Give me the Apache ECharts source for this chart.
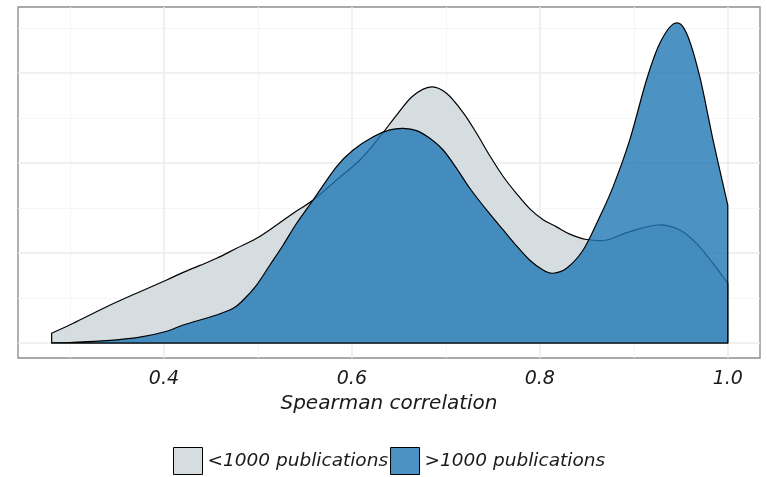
<!DOCTYPE html>
<html>
<head>
<meta charset="utf-8">
<script src="https://cdn.jsdelivr.net/npm/echarts@6/dist/echarts.min.js"></script>
<style>
  html, body { margin: 0; padding: 0; background: #fff; }
  #chart { width: 767px; height: 477px; }
</style>
</head>
<body>
<div id="chart"></div>
<script>
// density curves (x = Spearman correlation, y = density)
// first / last points sit on the baseline (y = 0)
const lowName = '<1000 publications';
const lowX = [0.2805, 0.2805, 0.3035, 0.339, 0.3745, 0.4029, 0.4205, 0.4383, 0.4561, 0.4773, 0.4986, 0.5199, 0.5376, 0.5588, 0.5837, 0.6085, 0.6298, 0.6476, 0.6649, 0.6848, 0.7007, 0.7184, 0.7327, 0.7468, 0.761, 0.7752, 0.7894, 0.8035, 0.8178, 0.8319, 0.8497, 0.871, 0.8957, 0.9258, 0.9489, 0.9667, 0.9843, 1.0, 1.0];
const lowY = [0, 0.108, 0.219, 0.403, 0.570, 0.700, 0.785, 0.862, 0.941, 1.052, 1.163, 1.311, 1.441, 1.589, 1.811, 2.033, 2.292, 2.533, 2.745, 2.845, 2.774, 2.56, 2.33, 2.08, 1.85, 1.66, 1.49, 1.37, 1.29, 1.21, 1.15, 1.144, 1.237, 1.311, 1.256, 1.107, 0.885, 0.663, 0];

const highName = '>1000 publications';
const highX = [0.2805, 0.2805, 0.3035, 0.339, 0.3745, 0.403, 0.4205, 0.4561, 0.4737, 0.4844, 0.4986, 0.5128, 0.5269, 0.5412, 0.5588, 0.5837, 0.6014, 0.6227, 0.6404, 0.6546, 0.6689, 0.683, 0.6971, 0.7114, 0.7255, 0.7433, 0.761, 0.7752, 0.7894, 0.8035, 0.8141, 0.8284, 0.8461, 0.8638, 0.878, 0.8957, 0.9135, 0.9277, 0.9436, 0.9561, 0.9702, 0.9843, 1.0, 1.0];
const highY = [0, 0.002, 0.008, 0.026, 0.065, 0.13, 0.2, 0.311, 0.385, 0.478, 0.644, 0.867, 1.089, 1.33, 1.589, 1.959, 2.144, 2.292, 2.367, 2.385, 2.36, 2.274, 2.144, 1.941, 1.719, 1.478, 1.256, 1.08, 0.92, 0.81, 0.775, 0.830, 1.033, 1.403, 1.737, 2.256, 2.922, 3.33, 3.552, 3.441, 2.959, 2.256, 1.533, 0];

const xTickLabels = [0.4, 0.6, 0.8, 1.0];
const xMajor = [0.4, 0.6, 0.8, 1.0];
const xMinor = [0.3, 0.5, 0.7, 0.9];
const yMajor = [0, 1, 2, 3];
const yMinor = [0.5, 1.5, 2.5, 3.5];

const font = 'DejaVu Sans';
const textColor = '#1a1a1a';
const majorLine = { color: '#ebebeb', width: 1.5, type: 'solid' };
const minorLine = { color: '#f2f2f2', width: 0.8, type: 'solid' };

const chart = echarts.init(document.getElementById('chart'));

const zip = (xs, ys) => xs.map((x, i) => [x, ys[i]]);

// closed outline: straight up from baseline, smooth curve through the
// read points, straight down at the end, back along the baseline
function densityPath(api, xs, ys) {
  const pts = xs.map((x, i) => api.coord([x, ys[i]]));
  const n = pts.length;
  const curve = pts.slice(1, n - 1);
  let d = `M${pts[0][0]},${pts[0][1]} L${curve[0][0]},${curve[0][1]}`;
  for (let i = 0; i < curve.length - 1; i++) {
    const p0 = curve[Math.max(i - 1, 0)];
    const p1 = curve[i];
    const p2 = curve[i + 1];
    const p3 = curve[Math.min(i + 2, curve.length - 1)];
    const c1x = p1[0] + (p2[0] - p0[0]) / 6;
    const c1y = p1[1] + (p2[1] - p0[1]) / 6;
    const c2x = p2[0] - (p3[0] - p1[0]) / 6;
    const c2y = p2[1] - (p3[1] - p1[1]) / 6;
    d += ` C${c1x},${c1y} ${c2x},${c2y} ${p2[0]},${p2[1]}`;
  }
  d += ` L${pts[n - 1][0]},${pts[n - 1][1]} Z`;
  return d;
}

function densitySeries(name, xs, ys, fill, z) {
  return {
    name,
    type: 'custom',
    data: zip(xs, ys),
    encode: { x: 0, y: 1 },
    z,
    silent: true,
    itemStyle: { color: fill },
    renderItem: (params, api) => {
      if (params.dataIndex !== 0) return null;
      return {
        type: 'path',
        shape: { pathData: densityPath(api, xs, ys) },
        style: { fill, stroke: '#000', lineWidth: 1.2, lineJoin: 'round' },
      };
    },
  };
}

// grid lines as marklines so they sit on the real values
const gridLines = [
  ...xMinor.map(v => ({ xAxis: v, lineStyle: minorLine })),
  ...yMinor.map(v => ({ yAxis: v, lineStyle: minorLine })),
  ...xMajor.map(v => ({ xAxis: v, lineStyle: majorLine })),
  ...yMajor.map(v => ({ yAxis: v, lineStyle: majorLine })),
];

const option = {
  animation: false,
  grid: {
    left: 18, right: 7, top: 7, bottom: 119,
    show: true, borderColor: '#8f8f8f', borderWidth: 1.4,
  },
  xAxis: {
    type: 'value',
    min: 0.2447,
    max: 1.0343,
    axisLine: { show: false },
    axisTick: { show: false },
    splitLine: { show: false },
    axisLabel: {
      customValues: xTickLabels,
      formatter: v => v.toFixed(1),
      margin: 12,
      fontFamily: font, fontStyle: 'italic', fontSize: 19, color: textColor,
    },
    name: 'Spearman correlation',
    nameLocation: 'middle',
    nameGap: 28,
    nameTextStyle: { fontFamily: font, fontStyle: 'italic', fontSize: 20, color: textColor },
  },
  yAxis: {
    type: 'value',
    min: -0.1667,
    max: 3.733,
    axisLine: { show: false },
    axisTick: { show: false },
    axisLabel: { show: false },
    splitLine: { show: false },
  },
  legend: {
    left: 168, top: 442,
    icon: 'rect',
    itemWidth: 29, itemHeight: 27, itemGap: 2,
    selectedMode: false,
    textStyle: { fontFamily: font, fontStyle: 'italic', fontSize: 18.5, color: textColor },
    data: [
      { name: lowName, itemStyle: { color: '#d6dde0', borderColor: '#000', borderWidth: 1 } },
      { name: highName, itemStyle: { color: '#4c93c3', borderColor: '#000', borderWidth: 1 } },
    ],
  },
  series: [
    {
      name: 'gridlines',
      type: 'line',
      data: [],
      silent: true,
      z: 0,
      markLine: {
        silent: true,
        z: 0,
        symbol: ['none', 'none'],
        label: { show: false },
        data: gridLines,
      },
    },
    densitySeries(lowName, lowX, lowY, '#d6dde0', 2),
    densitySeries(highName, highX, highY, 'rgba(31,120,180,0.8)', 3),
  ],
};

chart.setOption(option);
window.addEventListener('resize', () => chart.resize());
</script>
</body>
</html>
